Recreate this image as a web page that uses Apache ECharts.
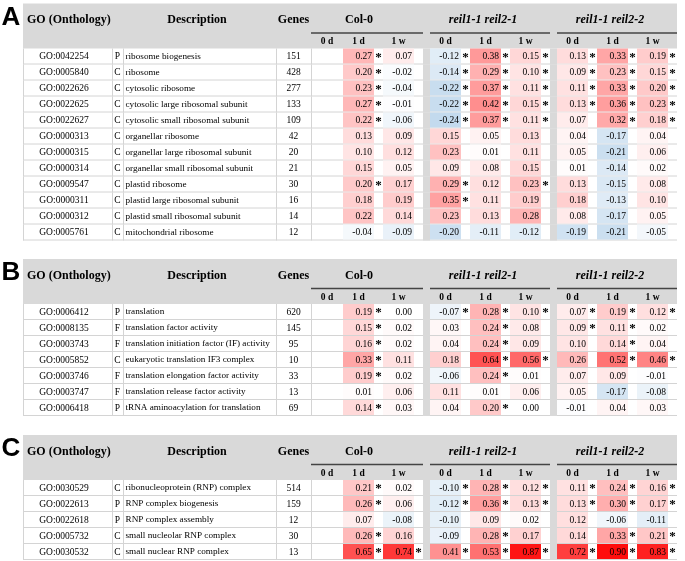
<!DOCTYPE html>
<html><head><meta charset="utf-8">
<script src="https://cdn.jsdelivr.net/npm/echarts@6/dist/echarts.min.js"></script>
<style>html,body{margin:0;padding:0;background:#fff}#c{width:685px;height:561px}</style>
</head><body><div id="c"></div><script>
// ---------------- DATA ----------------
const groupNames = ['Col-0', 'reil1-1 reil2-1', 'reil1-1 reil2-2'];
const timeLabels = ['0 d', '1 d', '1 w'];
const headerGO = 'GO (Onthology)', headerDesc = 'Description', headerGenes = 'Genes';

// Panel A
const A_id = ['GO:0042254','GO:0005840','GO:0022626','GO:0022625','GO:0022627','GO:0000313','GO:0000315','GO:0000314','GO:0009547','GO:0000311','GO:0000312','GO:0005761'];
const A_type = ['P','C','C','C','C','C','C','C','C','C','C','C'];
const A_desc = ['ribosome biogenesis','ribosome','cytosolic ribosome','cytosolic large ribosomal subunit','cytosolic small ribosomal subunit','organellar ribosome','organellar large ribosomal subunit','organellar small ribosomal subunit','plastid ribosome','plastid large ribosomal subunit','plastid small ribosomal subunit','mitochondrial ribosome'];
const A_genes = [151,428,277,133,109,42,20,21,30,16,14,12];
const A_col0_1d = [0.27,0.20,0.23,0.27,0.22,0.13,0.10,0.15,0.20,0.18,0.22,-0.04];
const A_col0_1d_sig = [1,1,1,1,1,0,0,0,1,0,0,0];
const A_col0_1w = [0.07,-0.02,-0.04,-0.01,-0.06,0.09,0.12,0.05,0.17,0.19,0.14,-0.09];
const A_col0_1w_sig = [0,0,0,0,0,0,0,0,0,0,0,0];
const A_r21_0d = [-0.12,-0.14,-0.22,-0.22,-0.24,0.15,0.23,0.09,0.29,0.35,0.23,-0.20];
const A_r21_0d_sig = [1,1,1,1,1,0,0,0,1,1,0,0];
const A_r21_1d = [0.38,0.29,0.37,0.42,0.37,0.05,0.01,0.08,0.12,0.11,0.13,-0.11];
const A_r21_1d_sig = [1,1,1,1,1,0,0,0,0,0,0,0];
const A_r21_1w = [0.15,0.10,0.11,0.15,0.11,0.13,0.11,0.15,0.23,0.19,0.28,-0.12];
const A_r21_1w_sig = [1,1,1,1,1,0,0,0,1,0,0,0];
const A_r22_0d = [0.13,0.09,0.11,0.13,0.07,0.04,0.05,0.01,0.13,0.18,0.08,-0.19];
const A_r22_0d_sig = [1,1,1,1,0,0,0,0,0,0,0,0];
const A_r22_1d = [0.33,0.23,0.33,0.36,0.32,-0.17,-0.21,-0.14,-0.15,-0.13,-0.17,-0.21];
const A_r22_1d_sig = [1,1,1,1,1,0,0,0,0,0,0,0];
const A_r22_1w = [0.19,0.15,0.20,0.23,0.18,0.04,0.06,0.02,0.08,0.10,0.05,-0.05];
const A_r22_1w_sig = [1,1,1,1,1,0,0,0,0,0,0,0];

// Panel B
const B_id = ['GO:0006412','GO:0008135','GO:0003743','GO:0005852','GO:0003746','GO:0003747','GO:0006418'];
const B_type = ['P','F','F','C','F','F','P'];
const B_desc = ['translation','translation factor activity','translation initiation factor (IF) activity','eukaryotic translation IF3 complex','translation elongation factor activity','translation release factor activity','tRNA aminoacylation for translation'];
const B_genes = [620,145,95,10,33,13,69];
const B_col0_1d = [0.19,0.15,0.16,0.33,0.19,0.01,0.14];
const B_col0_1d_sig = [1,1,1,1,1,0,1];
const B_col0_1w = [0.00,0.02,0.02,0.11,0.02,0.06,0.03];
const B_col0_1w_sig = [0,0,0,0,0,0,0];
const B_r21_0d = [-0.07,0.03,0.04,0.18,-0.06,0.11,0.04];
const B_r21_0d_sig = [1,0,0,0,0,0,0];
const B_r21_1d = [0.28,0.24,0.24,0.64,0.24,0.01,0.20];
const B_r21_1d_sig = [1,1,1,1,1,0,1];
const B_r21_1w = [0.10,0.08,0.09,0.56,0.01,0.06,0.00];
const B_r21_1w_sig = [1,0,0,1,0,0,0];
const B_r22_0d = [0.07,0.09,0.10,0.26,0.07,0.05,-0.01];
const B_r22_0d_sig = [1,1,0,0,0,0,0];
const B_r22_1d = [0.19,0.11,0.14,0.52,0.09,-0.17,0.04];
const B_r22_1d_sig = [1,1,1,1,0,0,0];
const B_r22_1w = [0.12,0.02,0.04,0.46,-0.01,-0.08,0.03];
const B_r22_1w_sig = [1,0,0,1,0,0,0];

// Panel C
const C_id = ['GO:0030529','GO:0022613','GO:0022618','GO:0005732','GO:0030532'];
const C_type = ['C','P','P','C','C'];
const C_desc = ['ribonucleoprotein (RNP) complex','RNP complex biogenesis','RNP complex assembly','small nucleolar RNP complex','small nuclear RNP complex'];
const C_genes = [514,159,12,30,13];
const C_col0_1d = [0.21,0.26,0.07,0.26,0.65];
const C_col0_1d_sig = [1,1,0,1,1];
const C_col0_1w = [0.02,0.06,-0.08,0.16,0.74];
const C_col0_1w_sig = [0,0,0,0,1];
const C_r21_0d = [-0.10,-0.12,-0.10,-0.09,0.41];
const C_r21_0d_sig = [1,1,0,0,1];
const C_r21_1d = [0.28,0.36,0.09,0.28,0.53];
const C_r21_1d_sig = [1,1,0,1,1];
const C_r21_1w = [0.12,0.13,0.02,0.17,0.87];
const C_r21_1w_sig = [1,1,0,0,1];
const C_r22_0d = [0.11,0.13,0.12,0.14,0.72];
const C_r22_0d_sig = [1,1,0,0,1];
const C_r22_1d = [0.24,0.30,-0.06,0.33,0.90];
const C_r22_1d_sig = [1,1,0,1,1];
const C_r22_1w = [0.16,0.17,-0.11,0.21,0.83];
const C_r22_1w_sig = [1,1,0,1,1];

// ---------------- LAYOUT ----------------
const SERIF = '"Liberation Serif","Times New Roman",serif';
const SANS = '"Liberation Sans",Arial,sans-serif';
const TABLE_LEFT = 23, TABLE_W = 654, ROW_H = 16, HEAD_H = 45;
const GRAY = '#d9d9d9', LINE = '#d4d4d4';
const X_ID = 41, X_TYPE_L = 89, X_DESC_L = 100, X_GENES_L = 253, X_HEAT_L = 288;
const X_DESC_TXT = 102.5, X_GENES_C = 270.5, X_TYPE_C = 94.5;
const HEAT_X0 = 320, STEP = 40, CELL = 31, SEP = 7;
const DATA_FONT = '9.5px ', DESC_FONT = '9.2px ';
function colStart(g, t) {
  if (g === 0) return HEAT_X0 + (t - 1) * STEP;
  return HEAT_X0 + 2 * STEP + SEP + (g - 1) * (3 * STEP + SEP) + t * STEP;
}
function groupSpan(g) {
  if (g === 0) return [X_HEAT_L, HEAT_X0 + 2 * STEP];
  const s = colStart(g, 0); return [s, s + 3 * STEP];
}
const SEPS = [groupSpan(0)[1], groupSpan(1)[1]];
const titleCenters = [359, 483, 610];

function mk(letter, top, id, type, desc, genes, cols) {
  const pos = [[0,1],[0,2],[1,0],[1,1],[1,2],[2,0],[2,1],[2,2]];
  return {letter, top, id, type, desc, genes,
    cols: cols.map((c, k) => ({g: pos[k][0], t: pos[k][1], v: c[0], s: c[1]}))};
}
const PANELS = [
  mk('A', 48.5, A_id, A_type, A_desc, A_genes, [
    [A_col0_1d, A_col0_1d_sig], [A_col0_1w, A_col0_1w_sig],
    [A_r21_0d, A_r21_0d_sig], [A_r21_1d, A_r21_1d_sig], [A_r21_1w, A_r21_1w_sig],
    [A_r22_0d, A_r22_0d_sig], [A_r22_1d, A_r22_1d_sig], [A_r22_1w, A_r22_1w_sig]]),
  mk('B', 304, B_id, B_type, B_desc, B_genes, [
    [B_col0_1d, B_col0_1d_sig], [B_col0_1w, B_col0_1w_sig],
    [B_r21_0d, B_r21_0d_sig], [B_r21_1d, B_r21_1d_sig], [B_r21_1w, B_r21_1w_sig],
    [B_r22_0d, B_r22_0d_sig], [B_r22_1d, B_r22_1d_sig], [B_r22_1w, B_r22_1w_sig]]),
  mk('C', 480, C_id, C_type, C_desc, C_genes, [
    [C_col0_1d, C_col0_1d_sig], [C_col0_1w, C_col0_1w_sig],
    [C_r21_0d, C_r21_0d_sig], [C_r21_1d, C_r21_1d_sig], [C_r21_1w, C_r21_1w_sig],
    [C_r22_0d, C_r22_0d_sig], [C_r22_1d, C_r22_1d_sig], [C_r22_1w, C_r22_1w_sig]])
];

function tstyle(t, x, y, font, align) {
  return {text: t, x: x, y: y, font: font, fill: '#000', align: align || 'center', verticalAlign: 'middle', textAlign: align || 'center', textVerticalAlign: 'middle'};
}

function tableRenderer(P) {
  return function (params, api) {
    const r = api.value(1);
    const c = api.coord([0, r]);
    const h = api.size([0, 1])[1];
    const X = u => api.coord([u, r])[0];
    const yT = c[1] - h / 2, yB = c[1] + h / 2, yM = c[1];
    const ch = [];
    ch.push({type: 'line', shape: {x1: X(0), y1: yB - 0.5, x2: X(TABLE_W), y2: yB - 0.5}, style: {stroke: LINE, lineWidth: 1}});
    [0, X_TYPE_L, X_DESC_L, X_GENES_L, X_HEAT_L].forEach(u => {
      ch.push({type: 'line', shape: {x1: X(u) + 0.5, y1: yT, x2: X(u) + 0.5, y2: yB}, style: {stroke: LINE, lineWidth: 1}});
    });
    SEPS.forEach(u => ch.push({type: 'rect', shape: {x: X(u), y: yT, width: api.size([SEP, 0])[0], height: h}, style: {fill: GRAY}}));
    const f = DATA_FONT + SERIF;
    ch.push({type: 'text', style: tstyle(P.id[r], X(X_ID), yM, f)});
    ch.push({type: 'text', style: tstyle(P.type[r], X(X_TYPE_C), yM, f)});
    ch.push({type: 'text', style: tstyle(P.desc[r], X(X_DESC_TXT), yM, DESC_FONT + SERIF, 'left')});
    ch.push({type: 'text', style: tstyle(String(P.genes[r]), X(X_GENES_C), yM, f)});
    return {type: 'group', children: ch};
  };
}

function heatRenderer(params, api) {
  const x = api.value(0), r = api.value(1), v = api.value(2), sig = api.value(3);
  const p = api.coord([x, r]);
  const w = api.size([CELL, 0])[0], h = api.size([0, 1])[1];
  const yT = p[1] - h / 2;
  const ch = [
    {type: 'rect', shape: {x: p[0], y: yT, width: w, height: h - 1}, style: {fill: api.visual('color')}},
    {type: 'text', style: tstyle(v.toFixed(2), p[0] + w - 2, p[1], DATA_FONT + SERIF, 'right')}
  ];
  if (sig) ch.push({type: 'text', style: tstyle('*', p[0] + w + 4.5, p[1] + 1, 'bold 13px ' + SERIF)});
  return {type: 'group', children: ch};
}

const grids = [], xAxes = [], yAxes = [], series = [], graphics = [], heatIdx = [];
function txt(t, x, y, font, align) {
  return {type: 'text', silent: true, style: tstyle(t, x, y, font, align)};
}
PANELS.forEach((P, i) => {
  const n = P.id.length;
  grids.push({left: TABLE_LEFT, width: TABLE_W, top: P.top, height: n * ROW_H});
  xAxes.push({type: 'value', gridIndex: i, min: 0, max: TABLE_W, show: false});
  yAxes.push({type: 'category', gridIndex: i, data: P.id, inverse: true, show: false});
  series.push({type: 'custom', xAxisIndex: i, yAxisIndex: i, silent: true, clip: false,
    data: P.id.map((_, r) => [0, r]), encode: {x: 0, y: 1}, renderItem: tableRenderer(P)});
  const heat = [];
  P.cols.forEach(c => c.v.forEach((v, r) => heat.push([colStart(c.g, c.t), r, v, c.s[r]])));
  heatIdx.push(series.length);
  series.push({type: 'custom', xAxisIndex: i, yAxisIndex: i, silent: true, clip: false,
    data: heat, encode: {x: 0, y: 1}, renderItem: heatRenderer});
  // header
  const hT = P.top - HEAD_H;
  const bold = 'bold 12px ' + SERIF;
  graphics.push({type: 'rect', silent: true, z: -1, shape: {x: TABLE_LEFT, y: hT, width: TABLE_W, height: HEAD_H}, style: {fill: GRAY}});
  graphics.push(txt(P.letter, 11, hT + 14, 'bold 26px ' + SANS));
  graphics.push(txt(headerGO, TABLE_LEFT + 4, hT + 16.5, bold, 'left'));
  graphics.push(txt(headerDesc, TABLE_LEFT + 174, hT + 16.5, bold));
  graphics.push(txt(headerGenes, TABLE_LEFT + (X_GENES_L + X_HEAT_L) / 2, hT + 16.5, bold));
  groupNames.forEach((g, gi) => {
    graphics.push(txt(g, titleCenters[gi], hT + 16.5, (gi ? 'italic ' : '') + bold));
    const sp = groupSpan(gi);
    graphics.push({type: 'line', silent: true, shape: {x1: TABLE_LEFT + sp[0], y1: hT + 29.5, x2: TABLE_LEFT + sp[1], y2: hT + 29.5}, style: {stroke: '#444', lineWidth: 1.5}});
    timeLabels.forEach((t, ti) => {
      const cx = (gi === 0 && ti === 0) ? (X_HEAT_L + HEAT_X0) / 2 : colStart(gi, ti) + CELL / 2;
      graphics.push(txt(t, TABLE_LEFT + cx, hT + 38.5, 'bold 9.5px ' + SERIF));
    });
  });
});

const chart = echarts.init(document.getElementById('c'));
chart.setOption({
  animation: false,
  backgroundColor: '#fff',
  grid: grids, xAxis: xAxes, yAxis: yAxes,
  visualMap: {type: 'continuous', show: false, min: -0.95, max: 0.95, dimension: 2, seriesIndex: heatIdx,
    inRange: {color: ['#126dbc', '#ffffff', '#ff0000']}},
  graphic: {elements: graphics},
  series: series
});
</script></body></html>
